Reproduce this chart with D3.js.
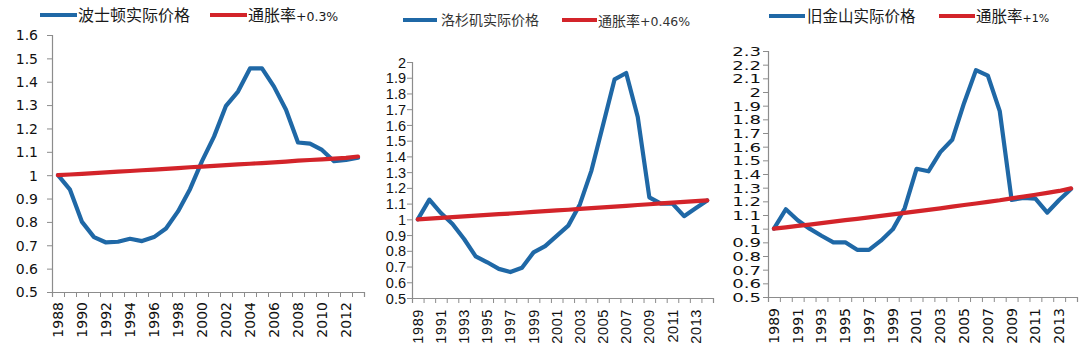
<!DOCTYPE html>
<html>
<head>
<meta charset="utf-8">
<script src="https://cdn.jsdelivr.net/npm/d3@7"></script>
<style>
  html, body { margin: 0; padding: 0; background: #fff; }
  svg { display: block; }
</style>
</head>
<body>
<svg id="chart" width="1090" height="355"></svg>
<script>
// ---------- DATA ----------
const yearsBoston = d3.range(1988, 2014).map(String);
const yearsLA = d3.range(1989, 2015).map(String);
const yearsSF = d3.range(1989, 2015).map(String);

const bostonReal = [1.0, 0.938, 0.80, 0.735, 0.712, 0.715, 0.728, 0.718, 0.735, 0.772, 0.845, 0.94, 1.06,
  1.165, 1.297, 1.358, 1.457, 1.457, 1.379, 1.28, 1.14, 1.135, 1.108, 1.06, 1.065, 1.075];
const bostonInfl = [1.000, 1.003, 1.006, 1.009, 1.012, 1.015, 1.018, 1.021, 1.024, 1.027, 1.030, 1.034, 1.037,
  1.040, 1.043, 1.046, 1.049, 1.052, 1.055, 1.058, 1.062, 1.065, 1.068, 1.071, 1.074, 1.080];

const laReal = [1.0, 1.125, 1.04, 0.97, 0.875, 0.765, 0.727, 0.685, 0.665, 0.692, 0.79, 0.83, 0.895,
  0.96, 1.095, 1.31, 1.60, 1.89, 1.93, 1.65, 1.14, 1.10, 1.10, 1.02, 1.07, 1.12];
const laInfl = [1.000, 1.005, 1.009, 1.014, 1.019, 1.023, 1.028, 1.033, 1.037, 1.042, 1.047, 1.052, 1.057,
  1.061, 1.066, 1.071, 1.076, 1.081, 1.086, 1.091, 1.096, 1.101, 1.106, 1.111, 1.116, 1.121];

const sfReal = [1.0, 1.142, 1.062, 1.0, 0.948, 0.90, 0.90, 0.845, 0.845, 0.912, 0.995, 1.15, 1.438,
  1.42, 1.56, 1.65, 1.92, 2.16, 2.12, 1.86, 1.21, 1.225, 1.22, 1.118, 1.21, 1.29];
const sfInfl = [1.000, 1.010, 1.020, 1.030, 1.041, 1.051, 1.062, 1.072, 1.083, 1.094, 1.105, 1.116, 1.127,
  1.138, 1.149, 1.161, 1.173, 1.184, 1.196, 1.208, 1.222, 1.235, 1.248, 1.262, 1.276, 1.295];

const bostonTicks = [0.5, 0.6, 0.7, 0.8, 0.9, 1.0, 1.1, 1.2, 1.3, 1.4, 1.5, 1.6];
const laTicks = [0.5, 0.6, 0.7, 0.8, 0.9, 1.0, 1.1, 1.2, 1.3, 1.4, 1.5, 1.6, 1.7, 1.8, 1.9, 2.0];
const sfTicks = [0.5, 0.6, 0.7, 0.8, 0.9, 1.0, 1.1, 1.2, 1.3, 1.4, 1.5, 1.6, 1.7, 1.8, 1.9, 2.0, 2.1, 2.2, 2.3];

const seriesNames = {
  boston: ["波士顿实际价格", "通胀率", "+0.3%"],
  la: ["洛杉矶实际价格", "通胀率", "+0.46%"],
  sf: ["旧金山实际价格", "通胀率", "+1%"]
};

// ---------- STYLE ----------
const BLUE = "#1f68a6";
const RED = "#d3242a";
const AXIS = "#8c8c8c";
const CJK = "'Noto Sans CJK SC', sans-serif";

const svg = d3.select("#chart");

function drawPanel(cfg) {
  const g = svg.append("g");
  const x = d3.scaleBand().domain(cfg.cats).range([cfg.left, cfg.right]).padding(0);
  const xi = d3.scaleLinear().domain([0, cfg.cats.length]).range([cfg.left, cfg.right]);
  const y = d3.scaleLinear().domain([0.5, cfg.ymax]).range([cfg.bottom, cfg.top]);

  // y axis
  const ya = g.append("g").attr("transform", `translate(${cfg.left},0)`)
    .call(d3.axisLeft(y).tickValues(cfg.ticks).tickSize(5).tickPadding(0)
      .tickFormat(d => String(+d.toFixed(1))));
  ya.select(".domain").attr("stroke", AXIS).attr("stroke-width", 1.2);
  ya.selectAll(".tick line").attr("stroke", AXIS);
  ya.selectAll(".tick text")
    .attr("x", null).attr("dy", "0.35em")
    .attr("transform", `translate(${-cfg.yLabGap},0) scale(${cfg.yScaleX},1)`)
    .attr("fill", "#111")
    .style("font-family", cfg.yFont).style("font-size", cfg.ySize + "px");

  // x axis tick marks (between categories)
  const xt = g.append("g").attr("transform", `translate(0,${cfg.bottom})`)
    .call(d3.axisBottom(xi).tickValues(d3.range(cfg.cats.length + 1)).tickSize(5).tickFormat(""));
  xt.select(".domain").attr("stroke", AXIS).attr("stroke-width", 1.2);
  xt.selectAll(".tick line").attr("stroke", AXIS);

  // x labels
  const xl = g.append("g").attr("transform", `translate(0,${cfg.bottom})`)
    .call(d3.axisBottom(x).tickValues(cfg.cats.filter((d, i) => i % 2 === 0)).tickSize(0));
  xl.select(".domain").remove();
  xl.selectAll(".tick text")
    .attr("y", null).attr("dy", "0.35em")
    .attr("x", -cfg.xLabGap)
    .attr("transform", "rotate(-90)")
    .attr("text-anchor", "end")
    .attr("fill", "#111")
    .style("font-family", cfg.xFont).style("font-size", cfg.xSize + "px")
    .style("letter-spacing", cfg.xSpacing + "px");

  const line = d3.line()
    .x((d, i) => x(cfg.cats[i]) + x.bandwidth() / 2)
    .y(d => y(d));

  g.append("path").datum(cfg.real).attr("d", line)
    .attr("fill", "none").attr("stroke", BLUE).attr("stroke-width", 4.2)
    .attr("stroke-linejoin", "round").attr("stroke-linecap", "round");
  g.append("path").datum(cfg.infl).attr("d", line)
    .attr("fill", "none").attr("stroke", RED).attr("stroke-width", 4.2)
    .attr("stroke-linejoin", "round").attr("stroke-linecap", "round");

  // legend
  const L = cfg.legend;
  const lg = g.append("g");
  lg.append("line").attr("x1", L.b0).attr("x2", L.b1).attr("y1", L.y).attr("y2", L.y)
    .attr("stroke", BLUE).attr("stroke-width", 4);
  lg.append("text").attr("x", L.bt).attr("y", L.y).attr("dy", "0.36em")
    .attr("fill", L.color)
    .style("font-family", CJK).style("font-size", L.cjk + "px")
    .text(cfg.names[0]);
  lg.append("line").attr("x1", L.r0).attr("x2", L.r1).attr("y1", L.y).attr("y2", L.y)
    .attr("stroke", RED).attr("stroke-width", 4);
  const rt = lg.append("text").attr("x", L.rt).attr("y", L.y).attr("dy", "0.36em")
    .attr("fill", L.color);
  rt.append("tspan").style("font-family", CJK).style("font-size", L.cjk + "px").text(cfg.names[1]);
  rt.append("tspan").style("font-family", "'DejaVu Sans', sans-serif").style("font-size", L.lat + "px").text(cfg.names[2]);
}

drawPanel({
  cats: yearsBoston, real: bostonReal, infl: bostonInfl, ticks: bostonTicks, ymax: 1.6,
  left: 52, right: 364, top: 35, bottom: 292,
  yFont: "'DejaVu Sans', sans-serif", ySize: 14, yScaleX: 1, yLabGap: 14,
  xFont: "'DejaVu Sans', sans-serif", xSize: 14, xSpacing: 0, xLabGap: 10,
  names: seriesNames.boston,
  legend: { y: 15, b0: 40, b1: 77, bt: 78, r0: 210, r1: 247, rt: 248, cjk: 16, lat: 12.5, color: "#1a1a1a" }
});

drawPanel({
  cats: yearsLA, real: laReal, infl: laInfl, ticks: laTicks, ymax: 2.0,
  left: 412, right: 713, top: 62, bottom: 298,
  yFont: "'Liberation Sans Narrow', 'Liberation Sans', sans-serif", ySize: 14.5, yScaleX: 1, yLabGap: 6,
  xFont: "'Liberation Sans Narrow', 'Liberation Sans', sans-serif", xSize: 14.5, xSpacing: 0.6, xLabGap: 11,
  names: seriesNames.la,
  legend: { y: 20, b0: 403, b1: 437, bt: 441, r0: 562, r1: 597, rt: 598, cjk: 14, lat: 12.5, color: "#333" }
});

drawPanel({
  cats: yearsSF, real: sfReal, infl: sfInfl, ticks: sfTicks, ymax: 2.3,
  left: 768, right: 1077, top: 51, bottom: 297,
  yFont: "'DejaVu Sans', sans-serif", ySize: 12.5, yScaleX: 1.45, yLabGap: 7,
  xFont: "'DejaVu Sans', sans-serif", xSize: 14, xSpacing: 0, xLabGap: 11,
  names: seriesNames.sf,
  legend: { y: 16, b0: 769, b1: 805, bt: 807, r0: 939, r1: 975, rt: 976, cjk: 15.5, lat: 11, color: "#1a1a1a" }
});
</script>
</body>
</html>
